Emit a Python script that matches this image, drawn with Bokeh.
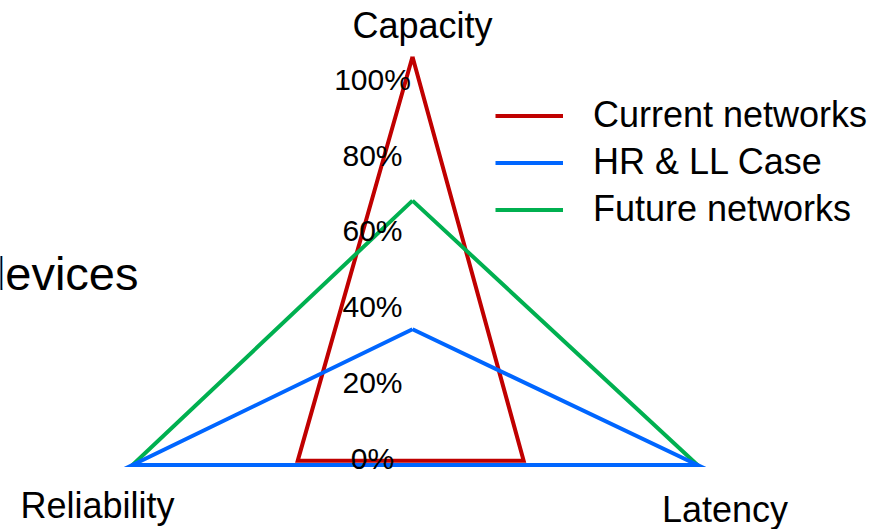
from bokeh.plotting import figure
from bokeh.models import Range1d, Legend, LegendItem, ColumnDataSource
from bokeh.core.properties import value
from bokeh.embed import file_html
from bokeh.resources import INLINE

# Radar axes and series values (percent), in axis order: Capacity, Latency, Reliability
axis_names = ["Capacity", "Latency", "Reliability"]
series_names = ["Current networks", "HR & LL Case", "Future networks"]
current_networks = [106, 39, 41]
hr_ll_case = [34, 100, 100]
future_networks = [68, 100, 100]
tick_values = [0, 20, 40, 60, 80, 100]
tick_labels = ["0%", "20%", "40%", "60%", "80%", "100%"]
series_colors = ["#C00000", "#0066FF", "#00B050"]

FONT_NAME = "Liberation Sans"
FONT = value(FONT_NAME)

# Screen-space direction of each spoke per 1 % (flattened triangle layout)
spoke_dirs = {
    "Capacity": (0.0, 3.785),
    "Latency": (2.85, -0.07),
    "Reliability": (-2.80, -0.07),
}


def project(values):
    xs, ys = [], []
    for name, v in zip(axis_names, values):
        dx, dy = spoke_dirs[name]
        xs.append(v * dx)
        ys.append(v * dy)
    xs.append(xs[0])
    ys.append(ys[0])
    return xs, ys


p = figure(width=890, height=529,
           x_range=Range1d(-412, 478), y_range=Range1d(-71.5, 457.5),
           output_backend="svg", toolbar_location=None, min_border=0)
p.axis.visible = False
p.grid.visible = False
p.outline_line_color = None
p.background_fill_color = "white"
p.border_fill_color = "white"

series = {
    "Current networks": current_networks,
    "HR & LL Case": hr_ll_case,
    "Future networks": future_networks,
}
renderers = {}
draw_order = ["Current networks", "Future networks", "HR & LL Case"]
for name in draw_order:
    xs, ys = project(series[name])
    color = series_colors[series_names.index(name)]
    renderers[name] = p.line(xs, ys, line_color=color, line_width=4,
                             line_join="miter")

# Capacity spoke percentage labels
cap_dy = spoke_dirs["Capacity"][1]
tick_src = ColumnDataSource(dict(
    x=[-40] * len(tick_values),
    y=[t * cap_dy for t in tick_values],
    text=tick_labels,
))
p.text(x="x", y="y", text="text", source=tick_src, text_font=FONT,
       text_font_size="30px", text_align="center", text_baseline="middle",
       text_color="black")

# Spoke names
name_src = ColumnDataSource(dict(
    x=[10, 312.5, -315],
    y=[432.5, -51, -47.5],
    text=axis_names,
))
p.text(x="x", y="y", text="text", source=name_src, text_font=FONT,
       text_font_size="36px", text_align="center", text_baseline="middle",
       text_color="black")

p.text(x=[-274], y=[185], text=["devices"], text_font=FONT,
       text_font_size="47px", text_align="right", text_baseline="middle",
       text_color="black")

legend = Legend(
    items=[LegendItem(label=n, renderers=[renderers[n]]) for n in series_names],
    location=(495, 296.5),
    padding=0, spacing=0, margin=0,
    glyph_width=68, glyph_height=47, label_height=47, label_standoff=30,
    label_text_font=FONT_NAME, label_text_font_size="36px",
    label_text_color="black",
    border_line_alpha=0, background_fill_alpha=0,
)
p.add_layout(legend)

open("out.html", "w").write(file_html(p, INLINE))
